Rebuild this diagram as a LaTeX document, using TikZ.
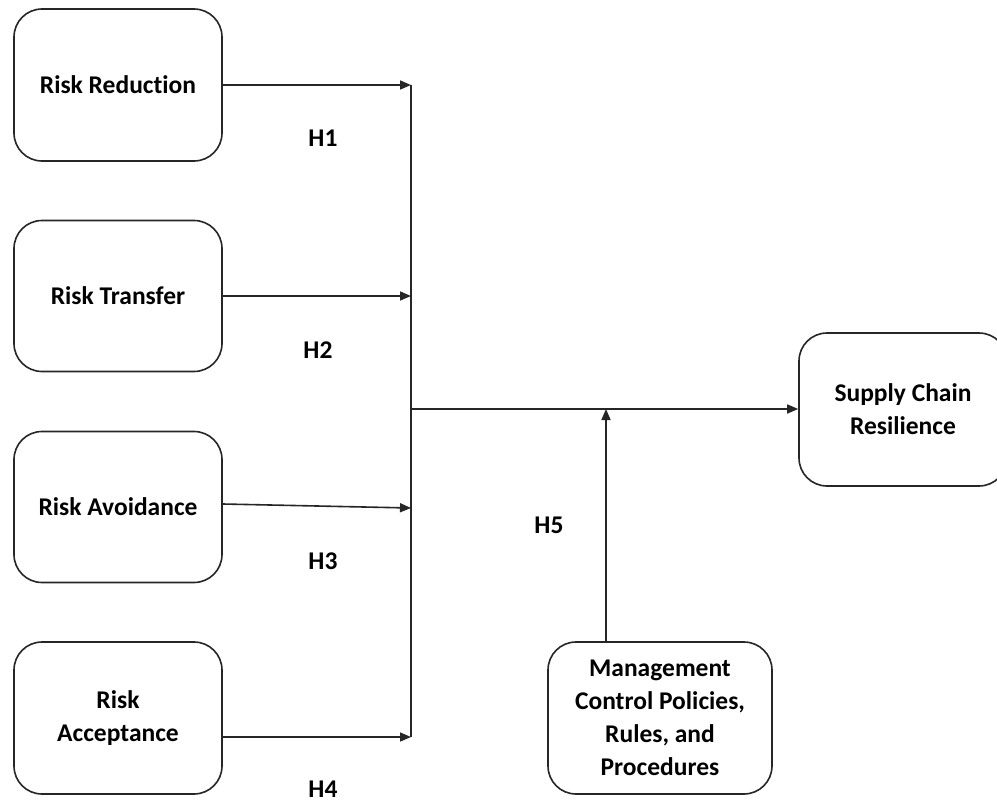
\documentclass[tikz,border=0pt]{standalone}
\usepackage{fontspec}
\setmainfont[Ligatures=NoCommon]{Carlito}
\usetikzlibrary{arrows.meta}
\begin{document}
\begin{tikzpicture}[x=1pt,y=-1pt,
  box/.style={draw=black!85, line width=1.6pt, rounded corners=28pt, align=center,
    inner sep=0pt, font=\fontsize{25.5}{33}\selectfont\bfseries},
  link/.style={draw=black!85, line width=1.6pt},
  arr/.style={link, -{Triangle[length=11pt,width=9pt]}},
  hlab/.style={inner sep=1pt, font=\fontsize{25.5}{28}\selectfont\bfseries}]
\useasboundingbox (0,0) rectangle (997,803);
\fill[white] (0,0) rectangle (997,803);

% predictor boxes
\node[box, minimum width=208pt, minimum height=152pt] (rr) at (118,85) {Risk Reduction};
\node[box, minimum width=208pt, minimum height=151pt] (rt) at (118,296) {Risk Transfer};
\node[box, minimum width=208pt, minimum height=151pt] (rv) at (118,507) {Risk Avoidance};
\node[box, minimum width=208pt, minimum height=152pt] (ra) at (118,718) {Risk\\Acceptance};

% outcome and moderator
\node[box, minimum width=208pt, minimum height=153pt] (scr) at (903,409.5) {Supply Chain\\Resilience};
\node[box, minimum width=224pt, minimum height=152pt] (mg) at (660,718) {Management\\Control Policies,\\Rules, and\\Procedures};

% bus coordinates
\coordinate (b1) at (411,85);
\coordinate (b2) at (411,296);
\coordinate (b3) at (411,508);
\coordinate (b4) at (411,737);
\coordinate (bm) at (411,409);
\coordinate (jn) at (606,409);

\draw[arr] (rr.east |- b1) -- (b1);
\draw[arr] (rt.east |- b2) -- (b2);
\draw[arr] (rv.east |- 0,504) -- (b3);
\draw[arr] (rv.east |- b4) -- (b4);
\draw[link] (b1) -- (b4);
\draw[arr] (bm) -- (scr.west |- bm);
\draw[arr] (mg.north -| jn) -- (jn);

% hypothesis labels
\node[hlab] (h1) at (323,138) {H1};
\node[hlab] (h2) at (318,350) {H2};
\node[hlab] (h3) at (323,561) {H3};
\node[hlab] (h4) at (323,789) {H4};
\node[hlab] (h5) at (549,525) {H5};
\end{tikzpicture}
\end{document}
